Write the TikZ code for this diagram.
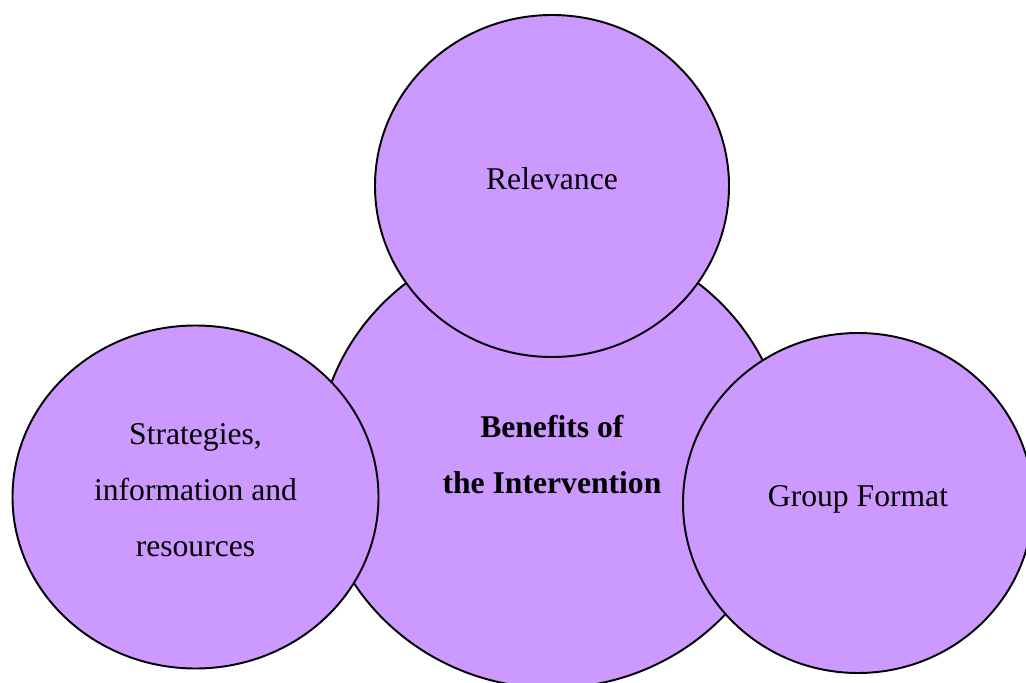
\documentclass[tikz,border=0pt]{standalone}
\usepackage{fontspec}
\setmainfont{Liberation Serif}
\usepackage{tikz}
\usetikzlibrary{shapes.geometric}

\definecolor{lilac}{RGB}{204,153,255}
\tikzset{
  bubble/.style={ellipse, draw=black, line width=1.1pt, fill=lilac, inner sep=0pt,
    align=center, text depth=0.28cm, font=\fontsize{18}{31.8}\selectfont}
}

\begin{document}
\begin{tikzpicture}
\useasboundingbox (0,0) rectangle (20.52,-13.66);
\node[bubble, minimum width=9.4cm, minimum height=9.08cm] (benefits) at (11.04,-9.22) {\textbf{Benefits of}\\\textbf{the Intervention}};
\node[bubble, minimum width=7.08cm, minimum height=6.84cm] (relevance) at (11.04,-3.72) {Relevance};
\node[bubble, minimum width=7.32cm, minimum height=6.86cm] (strategies) at (3.91,-9.94) {Strategies,\\information and\\resources};
\node[bubble, minimum width=7.0cm, minimum height=6.8cm] (group) at (17.16,-10.06) {Group Format};
\end{tikzpicture}
\end{document}
